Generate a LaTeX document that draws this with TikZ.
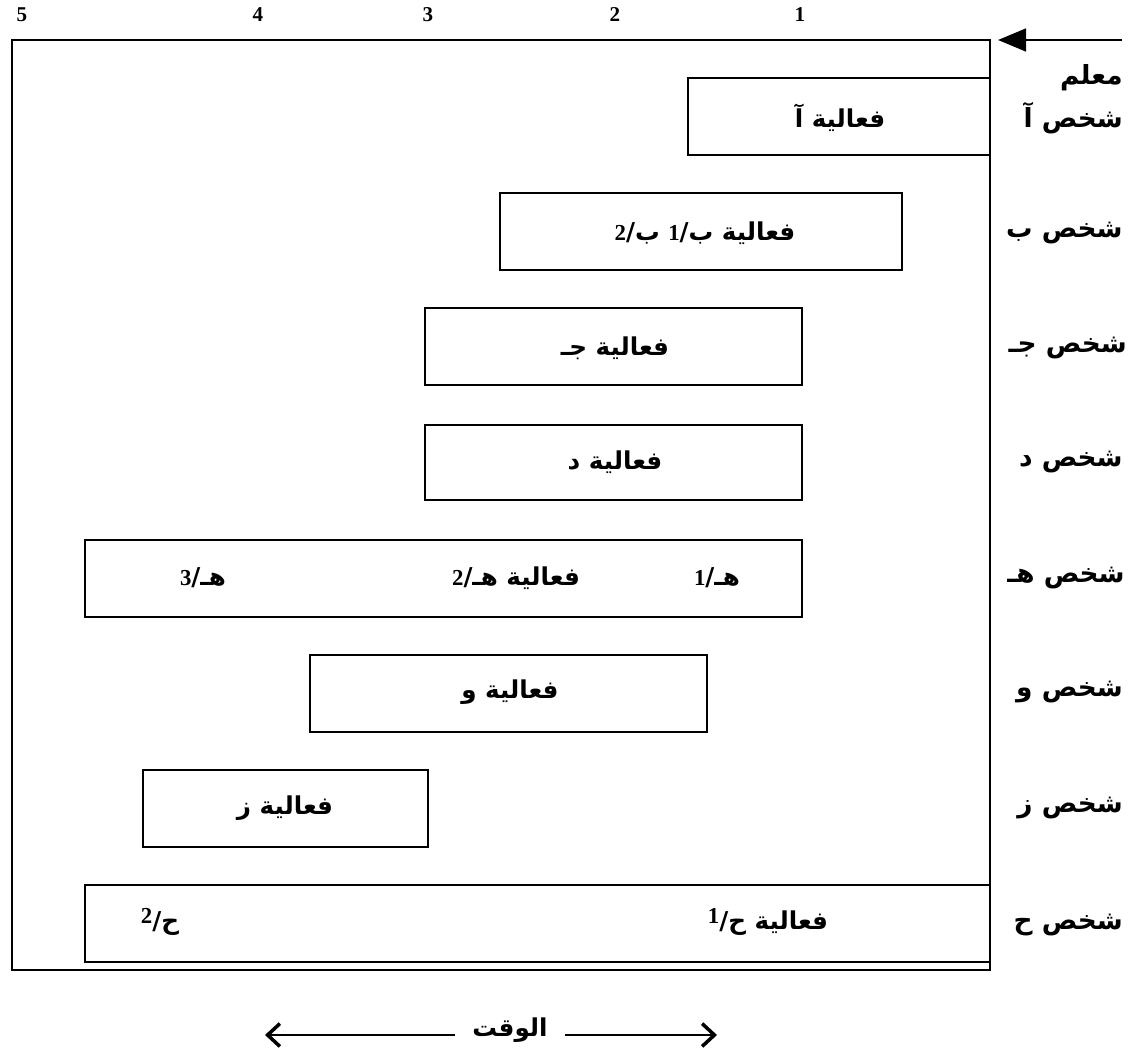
\documentclass[tikz,border=0pt]{standalone}
\usepackage{fontspec}
\setmainfont{Liberation Serif}
\newfontfamily\arabicfont[Script=Arabic]{DejaVu Sans}
\newfontfamily\digfont{Liberation Serif}
\TeXXeTstate=1
\usetikzlibrary{arrows.meta}
\newcommand\ar[1]{{\arabicfont\bfseries\beginR #1\endR}}
\newcommand\dg[1]{{\digfont\bfseries\fontsize{13}{15}\selectfont #1}}
\newcommand\actbox[5]{\node[boxst, minimum width={(#3-#2)*0.02cm}, minimum height={(#5-#4)*0.02cm}] (#1) at ({(#2+#3)/2},{(#4+#5)/2}) {};}
\begin{document}
\begin{tikzpicture}[x=0.02cm,y=-0.02cm,
  boxst/.style={draw, line width=1.1pt, rectangle, inner sep=0pt, outer sep=0pt},
  lab/.style={inner sep=0pt, anchor=east, font=\fontsize{15}{18}\selectfont},
  acttxt/.style={inner sep=0pt, font=\fontsize{14}{18}\selectfont},
  axis/.style={inner sep=0pt, font=\bfseries\fontsize{12}{14}\selectfont}]
\useasboundingbox (0,0) rectangle (1135,1051);
% frame
\actbox{frame}{12}{990}{40}{970}
% axis numbers
\node[axis] (n5) at (22,15) {5};
\node[axis] (n4) at (258,15) {4};
\node[axis] (n3) at (428,15) {3};
\node[axis] (n2) at (615,15) {2};
\node[axis] (n1) at (800,15) {1};
% top arrow
\coordinate (ts) at (1122,40);
\coordinate (te) at (998,40);
\draw[line width=1.3pt, -{Triangle[length=16pt,width=13pt]}] (ts) -- (te);
% row labels
\node[lab] (lm) at (1123,78) {\ar{معلم}};
\node[lab] (la) at (1123,118) {\ar{شخص آ}};
\node[lab] (lb) at (1123,233) {\ar{شخص ب}};
\node[lab] (lc) at (1127,348) {\ar{شخص جـ}};
\node[lab] (ld) at (1123,462) {\ar{شخص د}};
\node[lab] (le) at (1125,578) {\ar{شخص هـ}};
\node[lab] (lf) at (1123,692) {\ar{شخص و}};
\node[lab] (lg) at (1123,808) {\ar{شخص ز}};
\node[lab] (lh) at (1123,925) {\ar{شخص ح}};
% activity boxes
\actbox{ba}{688}{990}{78}{155}
\actbox{bb}{500}{902}{193}{270}
\actbox{bc}{425}{802}{308}{385}
\actbox{bd}{425}{802}{425}{500}
\actbox{be}{85}{802}{540}{617}
\actbox{bf}{310}{707}{655}{732}
\actbox{bg}{143}{428}{770}{847}
\actbox{bh}{85}{990}{885}{962}
% activity texts
\node[acttxt] (ta) at (840,118) {\ar{فعالية آ}};
\node[acttxt] (tb) at (705,233) {\ar{فعالية ب/\dg{1} ب/\dg{2}}};
\node[acttxt] (tc) at (615,348) {\ar{فعالية جـ}};
\node[acttxt] (td) at (615,462) {\ar{فعالية د}};
\node[acttxt] (te3) at (203,578) {\ar{هـ/\dg{3}}};
\node[acttxt] (te2) at (516,578) {\ar{فعالية هـ/\dg{2}}};
\node[acttxt] (te1) at (717,578) {\ar{هـ/\dg{1}}};
\node[acttxt] (tf) at (510,692) {\ar{فعالية و}};
\node[acttxt] (tg) at (285,808) {\ar{فعالية ز}};
\node[acttxt] (th2) at (160,922) {\ar{ح/\raisebox{3pt}{\dg{2}}}};
\node[acttxt] (th1) at (768,922) {\ar{فعالية ح/\raisebox{3pt}{\dg{1}}}};
% time arrows
\node[acttxt] (time) at (510,1030) {\ar{الوقت}};
\coordinate (l0) at (455,1035);
\coordinate (l1) at (265,1035);
\coordinate (r0) at (565,1035);
\coordinate (r1) at (717,1035);
\draw[line width=1.4pt, -{Straight Barb[length=7pt,width=13pt,line width=2pt]}] (l0) -- (l1);
\draw[line width=1.4pt, -{Straight Barb[length=7pt,width=13pt,line width=2pt]}] (r0) -- (r1);
\end{tikzpicture}
\end{document}
